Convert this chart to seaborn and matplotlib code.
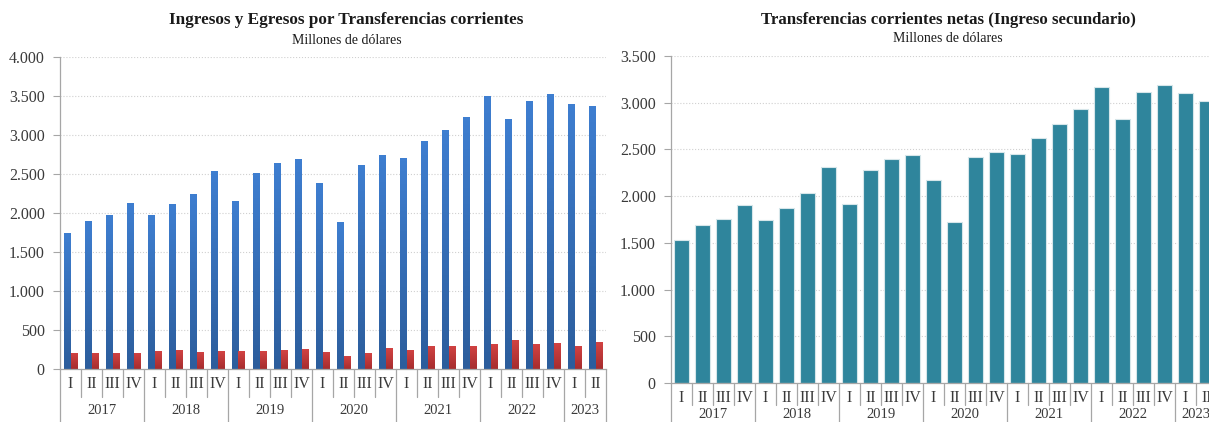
import numpy as np
import pandas as pd
import seaborn as sns
import matplotlib.pyplot as plt
import matplotlib.transforms as mtransforms
from matplotlib.colors import LinearSegmentedColormap
from matplotlib.ticker import FuncFormatter, MultipleLocator

# datos trimestrales (millones de dólares)
years = ["2017", "2018", "2019", "2020", "2021", "2022", "2023"]
quarters = ["I", "II", "III", "IV"]
ingresos = [1740, 1900, 1970, 2130,
            1970, 2120, 2250, 2540,
            2160, 2510, 2640, 2690,
            2390, 1880, 2610, 2740,
            2700, 2920, 3070, 3230,
            3500, 3200, 3430, 3530,
            3400, 3370]
egresos = [210, 210, 210, 210,
           235, 245, 220, 225,
           225, 225, 240, 255,
           220, 165, 200, 265,
           245, 300, 300, 300,
           320, 375, 315, 335,
           300, 340]
netas = [1530, 1690, 1760, 1910,
         1740, 1870, 2030, 2310,
         1920, 2280, 2400, 2440,
         2170, 1720, 2420, 2470,
         2450, 2620, 2770, 2930,
         3170, 2830, 3110, 3190,
         3100, 3020]

n = len(ingresos)
periodos = [f"{y}-{q}" for y in years for q in quarters][:n]
q_labels = [p.split("-")[1] for p in periodos]

df_left = pd.DataFrame({
    "periodo": periodos * 2,
    "serie": ["Ingresos"] * n + ["Egresos"] * n,
    "valor": ingresos + egresos,
})
df_right = pd.DataFrame({"periodo": periodos, "valor": netas})

sns.set_theme(style="white")
plt.rcParams["font.family"] = ["Liberation Serif", "DejaVu Serif"]

W, H = 1209, 422
fig = plt.figure(figsize=(W / 100, H / 100), dpi=100)
ax1 = fig.add_axes([60 / W, 1 - 369 / H, 546 / W, 312 / H])
ax2 = fig.add_axes([671 / W, 1 - 383 / H, 546 / W, 327 / H])

sns.barplot(data=df_left, x="periodo", y="valor", hue="serie",
            hue_order=["Ingresos", "Egresos"],
            palette=["#3874c4", "#c7383a"], width=0.62, gap=0,
            saturation=1, edgecolor="none", legend=False, ax=ax1)
sns.barplot(data=df_right, x="periodo", y="valor", color="#2f859c",
            width=0.68, edgecolor="#d6e6ea", linewidth=0.8, saturation=1,
            ax=ax2)

# degradado vertical en las barras del gráfico izquierdo
grad_blue = LinearSegmentedColormap.from_list("b", ["#2c5d9c", "#3e7ed0"])
grad_red = LinearSegmentedColormap.from_list("r", ["#a62d2e", "#d24343"])
ramp = np.linspace(0, 1, 64).reshape(-1, 1)
for k, patch in enumerate(list(ax1.patches)):
    x0, y0 = patch.get_x(), patch.get_y()
    w, h = patch.get_width(), patch.get_height()
    if h <= 0:
        continue
    cmap = grad_blue if k < n else grad_red
    im = ax1.imshow(ramp, extent=[x0, x0 + w, y0, y0 + h], origin="lower",
                    cmap=cmap, aspect="auto", zorder=patch.get_zorder())
    im.set_clip_path(patch)

thousands = FuncFormatter(lambda v, p: f"{int(v):,}".replace(",", "."))
text_col = "#3a3a3a"
axis_col = "#a6a6a6"


def style_axis(ax, ymax, h_px, q_drop, y_year):
    ax.set_xlim(-0.5, n - 0.5)
    ax.set_ylim(0, ymax)
    ax.yaxis.set_major_locator(MultipleLocator(500))
    ax.yaxis.set_major_formatter(thousands)
    ax.set_xticks(range(n))
    ax.set_xticklabels(q_labels)
    ax.tick_params(axis="x", length=0, pad=5, labelsize=11.5, colors=text_col)
    ax.tick_params(axis="y", left=True, length=5, width=0.8, color=axis_col,
                   labelsize=11.5, labelcolor=text_col, pad=6)
    ax.set_xlabel("")
    ax.set_ylabel("")
    ax.grid(axis="y", color="#d0d0d0", linestyle=":", linewidth=0.8)
    ax.set_axisbelow(True)
    for s in ["top", "right"]:
        ax.spines[s].set_visible(False)
    for s in ["left", "bottom"]:
        ax.spines[s].set_color(axis_col)
        ax.spines[s].set_linewidth(0.9)

    trans = mtransforms.blended_transform_factory(ax.transData, ax.transAxes)
    for i in range(n + 1):
        x = i - 0.5
        bottom = -60 / h_px if (i % 4 == 0 or i == n) else -q_drop / h_px
        ax.plot([x, x], [0, bottom], transform=trans, color=axis_col,
                lw=0.9, clip_on=False)
    for y in years:
        idx = [i for i in range(n) if periodos[i].startswith(y)]
        xc = (idx[0] + idx[-1]) / 2
        ax.text(xc, y_year / h_px, y, transform=trans, ha="center",
                va="center", fontsize=10.5, color=text_col)


style_axis(ax1, 4000, 312, 28, -41)
style_axis(ax2, 3500, 327, 22, -31)

fig.text(346 / W, 1 - 20 / H, "Ingresos y Egresos por Transferencias corrientes",
         ha="center", va="center", fontsize=12.3, fontweight="bold", color="#1a1a1a")
fig.text(347 / W, 1 - 40 / H, "Millones de dólares",
         ha="center", va="center", fontsize=10, color="#1a1a1a")
fig.text(948 / W, 1 - 20 / H, "Transferencias corrientes netas (Ingreso secundario)",
         ha="center", va="center", fontsize=12.1, fontweight="bold", color="#1a1a1a")
fig.text(948 / W, 1 - 38 / H, "Millones de dólares",
         ha="center", va="center", fontsize=10, color="#1a1a1a")

fig.savefig("out.png", dpi=100)
